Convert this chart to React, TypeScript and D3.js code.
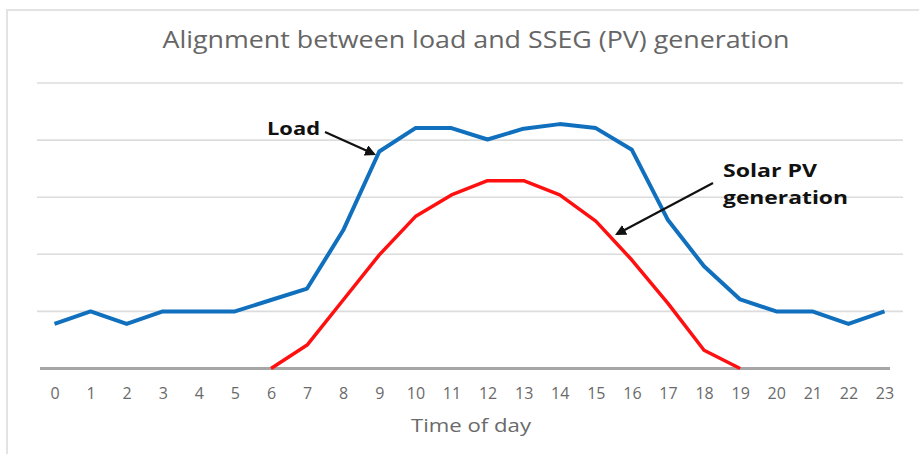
import * as React from 'react'
import { useEffect, useRef } from 'react'
import * as d3 from 'd3'

const hours = d3.range(0, 24)
const loadValues = [0.78, 1.0, 0.78, 1.0, 1.0, 1.0, 1.2, 1.4, 2.42, 3.8, 4.21, 4.21, 4.01, 4.2, 4.28, 4.21, 3.83, 2.6, 1.79, 1.21, 1.0, 1.0, 0.78, 1.0]
const solarHours = [6, 7, 8, 9, 10, 11, 12, 13, 14, 15, 16, 17, 18, 19]
const solarValues = [0, 0.41, 1.2, 1.99, 2.66, 3.04, 3.29, 3.29, 3.04, 2.58, 1.9, 1.14, 0.32, 0]
const gridValues = [1, 2, 3, 4, 5]

const title = 'Alignment between load and SSEG (PV) generation'
const xTitle = 'Time of day'

const App = () => {
    const chartRef = useRef<SVGSVGElement>(null)
    const width = 919
    const height = 454

    useEffect(() => {
        const svg = d3.select(chartRef.current)
        svg.selectAll('*').remove()

        const xScale = d3.scalePoint<number>()
            .domain(hours)
            .range([54.5, 884.5])

        const yScale = d3.scaleLinear()
            .domain([0, 5])
            .range([368.5, 83])

        // chart frame (top + left edges only visible)
        svg.append('line')
            .attr('x1', 6).attr('x2', width).attr('y1', 10).attr('y2', 10)
            .attr('stroke', '#e3e3e3').attr('stroke-width', 2)
        svg.append('line')
            .attr('x1', 7).attr('x2', 7).attr('y1', 10).attr('y2', height)
            .attr('stroke', '#e3e3e3').attr('stroke-width', 2)

        svg.append('text')
            .attr('x', 476)
            .attr('y', 48)
            .style('text-anchor', 'middle')
            .style('font-family', 'Open Sans, sans-serif')
            .style('font-size', '23px')
            .attr('fill', '#666')
            .attr('textLength', 627)
            .attr('lengthAdjust', 'spacingAndGlyphs')
            .text(title)

        // gridlines
        svg.append('g')
            .selectAll('line')
            .data(gridValues)
            .enter()
            .append('line')
            .attr('x1', 37)
            .attr('x2', 903)
            .attr('y1', d => yScale(d))
            .attr('y2', d => yScale(d))
            .attr('stroke', '#dcdcdc')
            .attr('stroke-width', 1.6)

        // x axis
        const xAxis = svg.append('g')
            .attr('transform', `translate(0, ${yScale(0)})`)
            .call(d3.axisBottom(xScale).tickSize(0).tickPadding(19))
        xAxis.select('.domain').remove()
        xAxis.append('line')
            .attr('x1', 40).attr('x2', 890).attr('y1', 0).attr('y2', 0)
            .attr('stroke', '#a6a6a6').attr('stroke-width', 3)
        xAxis.selectAll('text')
            .style('font-family', 'Open Sans, sans-serif')
            .style('font-size', '16px')
            .attr('fill', '#6a6a6a')

        svg.append('text')
            .attr('x', 471)
            .attr('y', 432)
            .style('text-anchor', 'middle')
            .style('font-family', 'Open Sans, sans-serif')
            .style('font-size', '18px')
            .attr('fill', '#6a6a6a')
            .attr('textLength', 120)
            .attr('lengthAdjust', 'spacingAndGlyphs')
            .text(xTitle)

        const line = d3.line<[number, number]>()
            .x(d => xScale(d[0]) as number)
            .y(d => yScale(d[1]))

        svg.append('path')
            .datum(solarHours.map((h, i) => [h, solarValues[i]] as [number, number]))
            .attr('d', line)
            .attr('fill', 'none')
            .attr('stroke', '#ff1010')
            .attr('stroke-width', 3.5)
            .attr('stroke-linejoin', 'round')

        svg.append('path')
            .datum(hours.map((h, i) => [h, loadValues[i]] as [number, number]))
            .attr('d', line)
            .attr('fill', 'none')
            .attr('stroke', '#1170bd')
            .attr('stroke-width', 4)
            .attr('stroke-linejoin', 'round')

        // annotations
        const defs = svg.append('defs')
        defs.append('marker')
            .attr('id', 'arrowHead')
            .attr('viewBox', '0 0 10 10')
            .attr('refX', 8)
            .attr('refY', 5)
            .attr('markerWidth', 5)
            .attr('markerHeight', 5)
            .attr('orient', 'auto')
            .append('path')
            .attr('d', 'M0,0 L10,5 L0,10 Z')
            .attr('fill', '#111')

        svg.append('line')
            .attr('x1', 325).attr('y1', 132)
            .attr('x2', 374).attr('y2', 154)
            .attr('stroke', '#111').attr('stroke-width', 2.2)
            .attr('marker-end', 'url(#arrowHead)')

        svg.append('line')
            .attr('x1', 713).attr('y1', 183)
            .attr('x2', 617).attr('y2', 234)
            .attr('stroke', '#111').attr('stroke-width', 2.2)
            .attr('marker-end', 'url(#arrowHead)')

        const label = svg.append('g')
            .style('font-family', 'Open Sans, sans-serif')
            .style('font-size', '18px')
            .style('font-weight', 'bold')
            .attr('fill', '#111')
            .attr('lengthAdjust', 'spacingAndGlyphs')
        label.append('text').attr('x', 267).attr('y', 135)
            .attr('textLength', 53).attr('lengthAdjust', 'spacingAndGlyphs').text('Load')
        label.append('text').attr('x', 723).attr('y', 177)
            .attr('textLength', 94).attr('lengthAdjust', 'spacingAndGlyphs').text('Solar PV')
        label.append('text').attr('x', 723).attr('y', 204)
            .attr('textLength', 125).attr('lengthAdjust', 'spacingAndGlyphs').text('generation')
    }, [])

    return (
        <svg ref={chartRef} width={width} height={height}
            style={{ position: 'absolute', left: 0, top: 0, background: '#fff' }}></svg>
    )
}

export default App
